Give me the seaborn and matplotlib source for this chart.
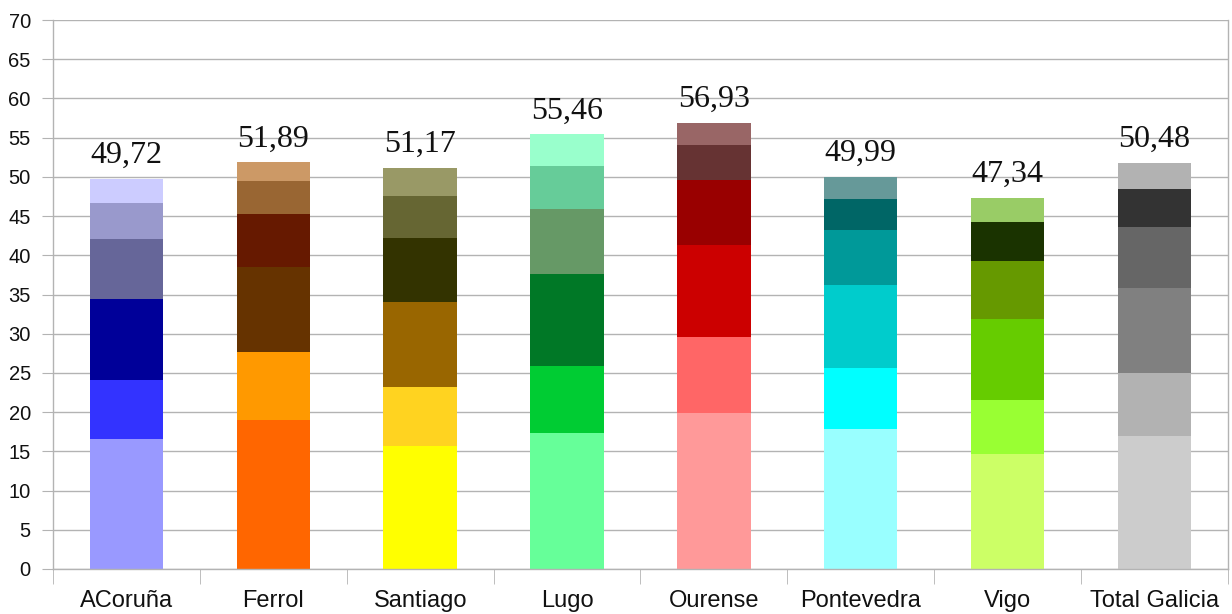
import matplotlib
matplotlib.use("Agg")
import matplotlib.pyplot as plt
import seaborn as sns
import pandas as pd
import numpy as np

# Datos (segmentos de abajo arriba)
cities = ["ACoruña", "Ferrol", "Santiago", "Lugo", "Ourense", "Pontevedra", "Vigo", "Total Galicia"]
level1 = [16.58, 19.04, 15.68, 17.34, 19.89, 17.85, 14.66, 16.96]
level2 = [7.52, 8.63, 7.53, 8.54, 9.69, 7.78, 6.89, 8.03]
level3 = [10.33, 10.84, 10.83, 11.73, 11.73, 10.58, 10.33, 10.84]
level4 = [7.65, 6.75, 8.16, 8.29, 8.29, 7.01, 7.39, 7.78]
level5 = [4.59, 4.21, 5.36, 5.48, 4.46, 3.96, 4.97, 4.84]
level6 = [3.06, 2.42, 3.61, 4.08, 2.87, 2.81, 3.10, 3.32]
totals_text = ["49,72", "51,89", "51,17", "55,46", "56,93", "49,99", "47,34", "50,48"]

# Colores por ciudad, de abajo arriba
colors = {
    "ACoruña": ["#9999ff", "#3333ff", "#000099", "#666699", "#9999cc", "#ccccff"],
    "Ferrol": ["#ff6600", "#ff9900", "#663300", "#661900", "#996633", "#cc9966"],
    "Santiago": ["#ffff00", "#ffd320", "#996600", "#333300", "#666633", "#999966"],
    "Lugo": ["#66ff99", "#00cc33", "#007826", "#669966", "#66cc99", "#99ffcc"],
    "Ourense": ["#ff9999", "#ff6666", "#cc0000", "#990000", "#663333", "#996666"],
    "Pontevedra": ["#99ffff", "#00ffff", "#00cccc", "#009999", "#006666", "#669999"],
    "Vigo": ["#ccff66", "#99ff33", "#66cc00", "#669900", "#1a3300", "#99cc66"],
    "Total Galicia": ["#cccccc", "#b2b2b2", "#808080", "#666666", "#333333", "#b2b2b2"],
}

levels = [level1, level2, level3, level4, level5, level6]
cum = np.cumsum(np.array(levels), axis=0)

sns.set_style("white")
fig = plt.figure(figsize=(12.32, 6.14), dpi=100)
ax = fig.add_axes([0.043, 0.0733, 0.9537, 0.8941])

# Apilado: se dibuja cada nivel acumulado encima del anterior, desde el más alto
for i in range(len(levels) - 1, -1, -1):
    df = pd.DataFrame({"city": cities, "value": cum[i]})
    pal = {c: colors[c][i] for c in cities}
    sns.barplot(data=df, x="city", y="value", hue="city", palette=pal,
                width=0.5, legend=False, saturation=1, ax=ax, linewidth=0)

# Etiquetas con el total encima de cada barra
for j, txt in enumerate(totals_text):
    ax.text(j, cum[-1][j] + 2.0, txt, ha="center", va="baseline",
            fontsize=23, family="Liberation Serif", color="#111111")

ax.set_ylim(0, 70)
ax.set_xlim(-0.5, len(cities) - 0.5)
ax.set_yticks(range(0, 71, 5))
ax.yaxis.grid(True, color="#b3b3b3", linewidth=1)
ax.set_axisbelow(True)
ax.set_xlabel("")
ax.set_ylabel("")

for s in ["left", "bottom", "right"]:
    ax.spines[s].set_color("#b3b3b3")
    ax.spines[s].set_linewidth(1)
ax.spines["top"].set_visible(False)

ax.tick_params(axis="y", length=8, color="#b3b3b3", pad=8, labelsize=14.5, direction="out", left=True)
ax.tick_params(axis="x", which="major", length=0, pad=15, labelsize=17)
ax.set_xticks(np.arange(-0.5, len(cities)), minor=True)
ax.tick_params(axis="x", which="minor", length=11, color="#b3b3b3", bottom=True)
for lab in ax.get_xticklabels() + ax.get_yticklabels():
    lab.set_family("Liberation Sans")
    lab.set_color("#111111")

fig.savefig("out.png", dpi=100)
